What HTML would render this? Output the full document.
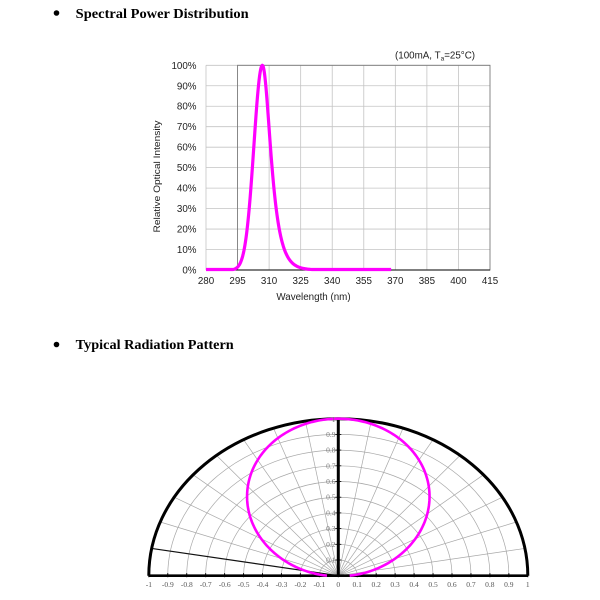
<!DOCTYPE html>
<html><head><meta charset="utf-8"><style>
html,body{margin:0;padding:0;background:#fff;}
svg{display:block;}
.sans{font-family:"Liberation Sans",Arial,sans-serif;}
.serif{font-family:"Liberation Serif","Times New Roman",serif;}
</style></head><body>
<svg id="s" width="600" height="600" viewBox="0 0 600 600" xmlns="http://www.w3.org/2000/svg">
<rect width="600" height="600" fill="#fff"/>
<!-- titles -->
<circle cx="56.5" cy="13" r="2.8" fill="#000"/>
<text class="serif" x="75.7" y="17.8" font-size="14" font-weight="bold" textLength="173" lengthAdjust="spacingAndGlyphs">Spectral Power Distribution</text>
<circle cx="56.5" cy="344.5" r="2.8" fill="#000"/>
<text class="serif" x="75.7" y="349" font-size="14" font-weight="bold" textLength="158" lengthAdjust="spacingAndGlyphs">Typical Radiation Pattern</text>

<g id="topgrid"></g>
<path id="spec" fill="none" stroke="#f0f" stroke-width="3.2" stroke-linejoin="round"/>

<!-- top chart labels -->
<g class="sans" font-size="9.8" fill="#222" text-anchor="end">
<text x="196.5" y="273.5">0%</text>
<text x="196.5" y="253">10%</text>
<text x="196.5" y="232.6">20%</text>
<text x="196.5" y="212.1">30%</text>
<text x="196.5" y="191.6">40%</text>
<text x="196.5" y="171.2">50%</text>
<text x="196.5" y="150.7">60%</text>
<text x="196.5" y="130.2">70%</text>
<text x="196.5" y="109.7">80%</text>
<text x="196.5" y="89.3">90%</text>
<text x="196.5" y="68.8">100%</text>
</g>
<g class="sans" font-size="9.8" fill="#222" text-anchor="middle">
<text x="206" y="284">280</text>
<text x="237.6" y="284">295</text>
<text x="269.1" y="284">310</text>
<text x="300.7" y="284">325</text>
<text x="332.2" y="284">340</text>
<text x="363.8" y="284">355</text>
<text x="395.3" y="284">370</text>
<text x="426.9" y="284">385</text>
<text x="458.4" y="284">400</text>
<text x="490" y="284">415</text>
<text x="313.5" y="300">Wavelength (nm)</text>
</g>
<text class="sans" font-size="9.5" fill="#222" text-anchor="middle" transform="translate(160,176.5) rotate(-90)" textLength="112" lengthAdjust="spacingAndGlyphs">Relative Optical Intensity</text>
<text class="sans" font-size="9.8" fill="#222" x="395" y="58.5">(100mA, T<tspan font-size="6.5" dy="2">a</tspan><tspan dy="-2">=25°C)</tspan></text>

<!-- polar -->
<g id="polgrid"></g>
<path id="pol" fill="none" stroke="#f0f" stroke-width="2.6"/>
<g class="serif" font-size="7.5" fill="#555" text-anchor="middle">
<text x="148.9" y="587">-1</text>
<text x="167.8" y="587">-0.9</text>
<text x="186.8" y="587">-0.8</text>
<text x="205.7" y="587">-0.7</text>
<text x="224.7" y="587">-0.6</text>
<text x="243.6" y="587">-0.5</text>
<text x="262.5" y="587">-0.4</text>
<text x="281.5" y="587">-0.3</text>
<text x="300.4" y="587">-0.2</text>
<text x="319.4" y="587">-0.1</text>
<text x="338.3" y="587">0</text>
<text x="357.2" y="587">0.1</text>
<text x="376.2" y="587">0.2</text>
<text x="395.1" y="587">0.3</text>
<text x="414.1" y="587">0.4</text>
<text x="433" y="587">0.5</text>
<text x="451.9" y="587">0.6</text>
<text x="470.9" y="587">0.7</text>
<text x="489.8" y="587">0.8</text>
<text x="508.8" y="587">0.9</text>
<text x="527.7" y="587">1</text>
</g>
<g class="serif" font-size="7.5" fill="#777" text-anchor="end">
<text x="335.5" y="562.5">0.1</text>
<text x="335.5" y="546.8">0.2</text>
<text x="335.5" y="531.1">0.3</text>
<text x="335.5" y="515.4">0.4</text>
<text x="335.5" y="499.7">0.5</text>
<text x="335.5" y="484">0.6</text>
<text x="335.5" y="468.3">0.7</text>
<text x="335.5" y="452.6">0.8</text>
<text x="335.5" y="436.9">0.9</text>
<text x="335.5" y="422">1</text>
</g>
</svg>
<script>
(function(){
var NS="http://www.w3.org/2000/svg";
function el(parent,tag,attrs){var e=document.createElementNS(NS,tag);for(var k in attrs)e.setAttribute(k,attrs[k]);parent.appendChild(e);return e;}
// ---- top chart ----
var tg=document.getElementById("topgrid");
function X(w){return 206+(w-280)*284/135;}
function Y(p){return 270-p*2.047;}
for(var p=10;p<=100;p+=10){el(tg,"line",{x1:206,x2:490,y1:Y(p),y2:Y(p),stroke:"#c4c4c4","stroke-width":0.8});}
el(tg,"line",{x1:206,x2:206,y1:Y(100),y2:270,stroke:"#c4c4c4","stroke-width":0.8});
for(var w=310;w<415;w+=15){el(tg,"line",{x1:X(w),x2:X(w),y1:Y(100),y2:270,stroke:"#c4c4c4","stroke-width":0.8});}
el(tg,"rect",{x:X(295),y:Y(100),width:X(415)-X(295),height:270-Y(100),fill:"none",stroke:"#7a7a7a","stroke-width":0.9});
el(tg,"line",{x1:206,x2:490,y1:270,y2:270,stroke:"#333","stroke-width":1.2});
var d="",pk=306.8;
for(var w=280;w<=368;w+=0.25){
  var f;
  if(w<pk){var u=(w-pk)/4.04;f=Math.exp(-0.5*u*u);}
  else{var u=(w-pk)/3.5;f=1/Math.cosh(u);}
  var yy=Y(f*100);if(yy>269.5)yy=269.5;
  d+=(d?"L":"M")+X(w).toFixed(2)+" "+yy.toFixed(2);
}
document.getElementById("spec").setAttribute("d",d);
// ---- polar ----
var pg=document.getElementById("polgrid");
var cx=338.3,cy=575.7,rx=189.5,ry=157;
for(var k=1;k<=9;k++){var r=k/10;
  el(pg,"path",{d:"M"+(cx-r*rx)+" "+cy+" A"+(r*rx)+" "+(r*ry)+" 0 0 1 "+(cx+r*rx)+" "+cy,fill:"none",stroke:"#a8a8a8","stroke-width":0.7});}
for(var a=10;a<180;a+=10){if(a==90)continue;var t=a*Math.PI/180;
  var dark=(a==170);
  el(pg,"line",{x1:cx,y1:cy,x2:cx+rx*Math.cos(t),y2:cy-ry*Math.sin(t),stroke:dark?"#111":"#a8a8a8","stroke-width":dark?1.2:0.7});}
el(pg,"path",{d:"M"+(cx-rx)+" "+cy+" A"+rx+" "+ry+" 0 0 1 "+(cx+rx)+" "+cy,fill:"none",stroke:"#000","stroke-width":3});
el(pg,"line",{x1:cx-rx,x2:cx+rx,y1:cy,y2:cy,stroke:"#000","stroke-width":2.6});
el(pg,"line",{x1:cx,x2:cx,y1:cy,y2:cy-ry,stroke:"#000","stroke-width":3});
for(var k=-10;k<=10;k++){var xx=cx+k*rx/10;el(pg,"line",{x1:xx,x2:xx,y1:cy-2.5,y2:cy+1.5,stroke:"#000","stroke-width":1});}
for(var k=1;k<=10;k++){var yy=cy-k*ry/10;el(pg,"line",{x1:cx-3,x2:cx+3,y1:yy,y2:yy,stroke:"#000","stroke-width":0.8});}
var pd="";
for(var a=-90;a<=90;a+=1){var t=a*Math.PI/180;var c=Math.cos(t);if(c<0)c=0;
  var r=0.06+0.94*Math.pow(c,1.2);
  var px=cx+r*Math.sin(t)*rx,py=cy-r*Math.cos(t)*ry;
  pd+=(pd?"L":"M")+px.toFixed(2)+" "+py.toFixed(2);}
document.getElementById("pol").setAttribute("d",pd);
})();
</script>
</body></html>
